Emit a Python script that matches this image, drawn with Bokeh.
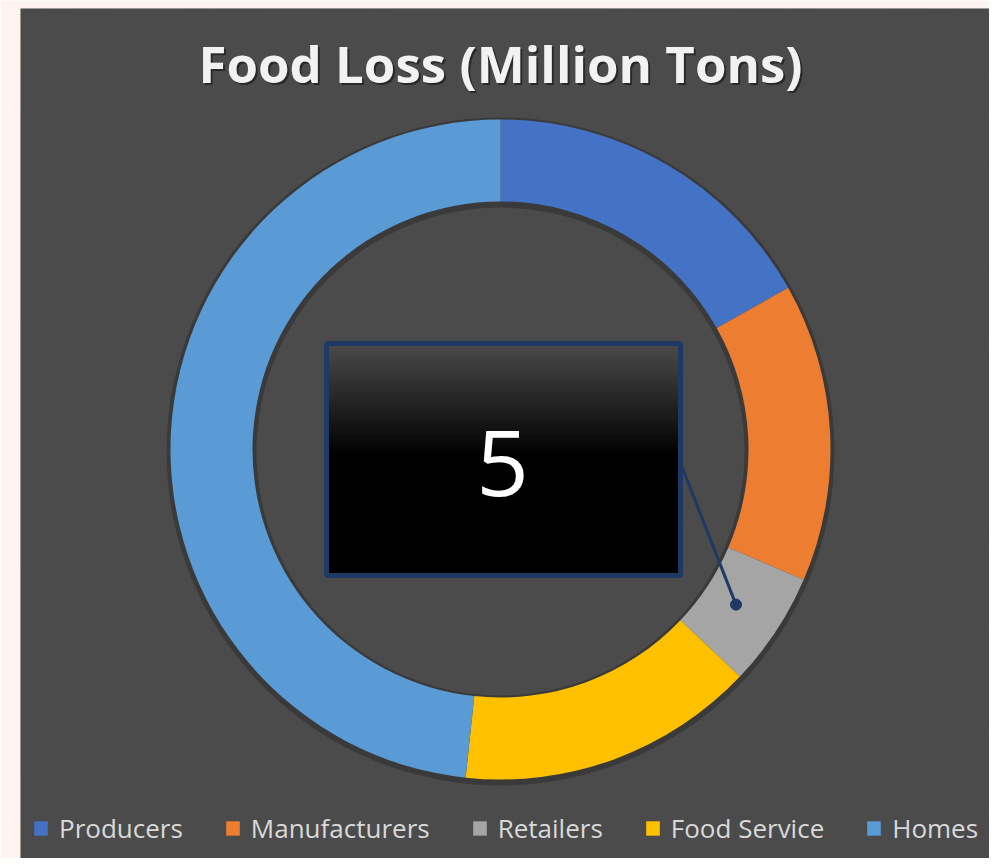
import numpy as np
from bokeh.plotting import figure
from bokeh.models import ColumnDataSource, Range1d, Label
from bokeh.embed import file_html
from bokeh.resources import INLINE

# ---- data ----
categories = ["Producers", "Manufacturers", "Retailers", "Food Service", "Homes"]
values = [15, 13, 5, 13, 43]
colors = ["#4472C4", "#ED7D31", "#A5A5A5", "#FFC000", "#5B9BD5"]
title_text = "Food Loss (Million Tons)"
callout_category = "Retailers"

FONT = "Open Sans"
W, H = 989, 858


def SY(sy):
    # convert a reference-screen y to data y (data units == pixels)
    return H - sy


p = figure(width=W, height=H, output_backend="svg", toolbar_location=None,
           x_range=Range1d(20, W), y_range=Range1d(0, H - 8),
           x_axis_type=None, y_axis_type=None,
           min_border_left=20, min_border_right=0, min_border_top=8, min_border_bottom=0,
           background_fill_color="#4b4b4b", border_fill_color="#fdf4f2",
           outline_line_color=None)
for g in p.grid:
    g.visible = False

# soft radial background glow
n = 30
radii = np.linspace(700, 40, n)
p.circle(x=[500] * n, y=[SY(445)] * n, radius=radii, fill_color="#626262",
         fill_alpha=0.045, line_color=None)

# title with shadow
p.add_layout(Label(x=502, y=SY(64), text=title_text, text_align="center", text_baseline="middle",
                   text_font=FONT, text_font_style="bold", text_font_size="51px",
                   text_color="black", text_alpha=0.45))
p.add_layout(Label(x=500, y=SY(62), text=title_text, text_align="center", text_baseline="middle",
                   text_font=FONT, text_font_style="bold", text_font_size="51px",
                   text_color="#f2f2f2"))

# donut
cx, cy = 500, SY(449)
r_out, r_in = 330, 248
vals = np.array(values, dtype=float)
frac = vals / vals.sum()
cum = np.concatenate([[0.0], np.cumsum(frac)])
start = np.pi / 2 - 2 * np.pi * cum[1:]
end = np.pi / 2 - 2 * np.pi * cum[:-1]

# shadow ring
p.annulus(x=cx, y=cy - 2, inner_radius=r_in - 4, outer_radius=r_out + 4,
          fill_color="black", fill_alpha=0.22, line_color=None)

src = ColumnDataSource(dict(category=categories, value=values, start=start, end=end, color=colors))
p.annular_wedge(x=cx, y=cy, inner_radius=r_in, outer_radius=r_out,
                start_angle="start", end_angle="end", fill_color="color",
                line_color=None, source=src, legend_field="category")

# callout box with vertical gradient
bl, br, bt, bb = 326, 680, 343, 575
nb = 30
edges = np.linspace(bt, 458, nb + 1)
shades = np.linspace(0x4a, 0x00, nb).astype(int)
band_colors = ["#%02x%02x%02x" % (s, s, s) for s in shades]
p.quad(left=bl, right=br, top=SY(edges[:-1]), bottom=SY(edges[1:]) - 0.5,
       fill_color=band_colors, line_color=None)
p.quad(left=bl, right=br, top=SY(458), bottom=SY(bb), fill_color="black", line_color=None)
p.quad(left=bl, right=br, top=SY(bt), bottom=SY(bb), fill_color=None,
       line_color="#1f3864", line_width=5)

ci = categories.index(callout_category)
p.add_layout(Label(x=502, y=SY(462), text=str(values[ci]), text_align="center",
                   text_baseline="middle", text_font=FONT, text_font_size="92px",
                   text_color="white"))

# leader line to the middle of the slice
mid = (cum[ci] + cum[ci + 1]) / 2 * 2 * np.pi
r_mid = 282
dx = cx + r_mid * np.sin(mid)
dy = cy + r_mid * np.cos(mid)
p.line(x=[br - 1, dx], y=[SY(460), dy], line_color="#1f3864", line_width=3)
p.scatter(x=[dx], y=[dy], size=11, fill_color="#1f3864", line_color="#1f3864")

# legend
lg = p.legend[0]
lg.orientation = "horizontal"
lg.location = (12, 12)
lg.padding = 0
lg.margin = 0
lg.spacing = 41
lg.label_standoff = 10
lg.glyph_width = 17
lg.glyph_height = 18
lg.label_text_font = FONT
lg.label_text_font_size = "26px"
lg.label_text_color = "#d9d9d9"
lg.background_fill_alpha = 0
lg.border_line_alpha = 0

open("out.html", "w").write(file_html(p, INLINE))
